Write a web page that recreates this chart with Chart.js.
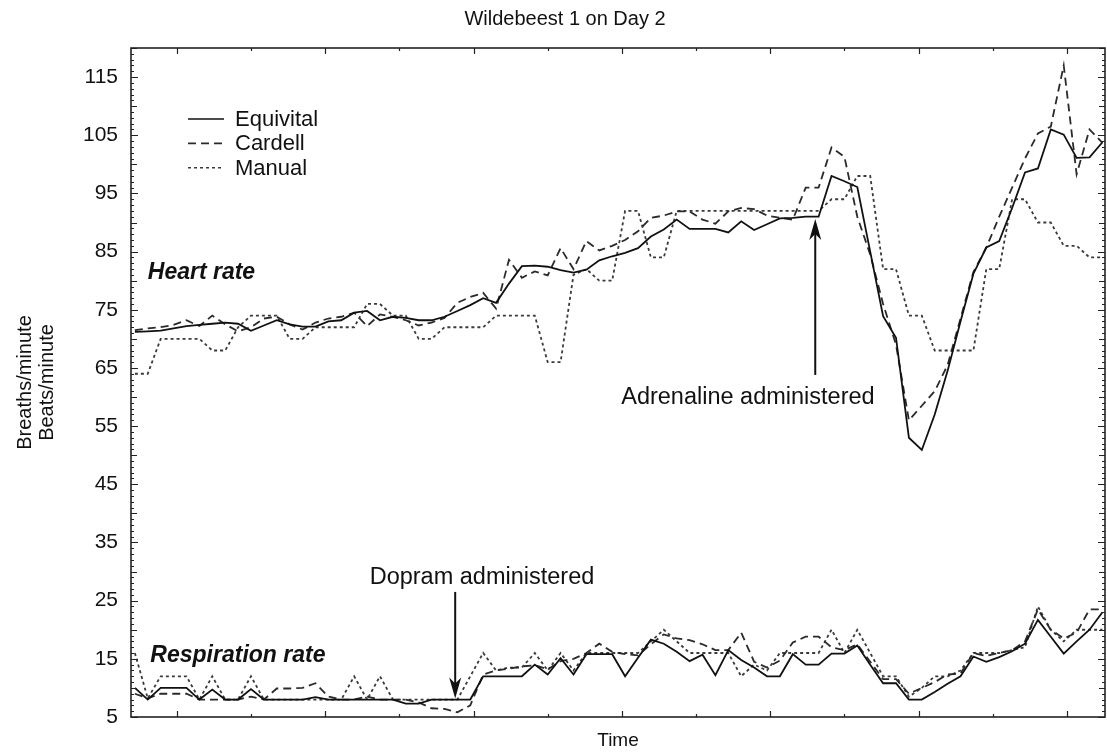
<!DOCTYPE html>
<html>
<head>
<meta charset="utf-8">
<script src="https://cdn.jsdelivr.net/npm/chart.js@4.4.1/dist/chart.umd.min.js"></script>
<style>
  html, body { margin: 0; padding: 0; background: #fff; }
  #wrap { width: 1107px; height: 754px; }
</style>
</head>
<body>
<div id="wrap"><canvas id="chart"></canvas></div>
<script>
// sample number along the time axis (no labels on that axis)
const sampleIdx = Array.from({ length: 76 }, (_, i) => i);

// Heart rate (beats/minute)
const heartEquivital = [
  71.2, 71.3, 71.4, 71.8, 72.2, 72.4, 72.6, 72.8, 72.6, 71.4,
  72.3, 73.2, 72.5, 72.1, 72.1, 73.0, 73.2, 74.5, 74.8, 73.2,
  73.8, 73.6, 73.2, 73.2, 73.8, 74.8, 75.8, 77.0, 76.2, 79.5,
  82.5, 82.6, 82.4, 81.8, 81.4, 81.9, 83.5, 84.2, 84.8, 85.6,
  87.6, 88.8, 90.5, 88.9, 88.9, 88.9, 88.3, 90.2, 88.7, 89.7,
  90.7, 90.8, 91.0, 91.0, 98.0, 97.1, 96.1, 85.0, 73.9, 70.2,
  53.0, 50.9, 57.0, 64.5, 73.0, 81.2, 85.7, 86.8, 92.5, 98.6,
  99.3, 106.0, 105.1, 101.1, 101.2, 103.8
];
const heartCardell = [
  71.5, 71.8, 72.0, 72.4, 73.2, 72.2, 74.0, 72.5, 71.3, 72.0,
  73.5, 73.8, 72.5, 71.6, 72.8, 73.5, 73.8, 74.5, 72.2, 74.2,
  73.8, 73.2, 72.3, 72.8, 73.6, 76.2, 77.2, 77.9, 75.2, 83.6,
  80.5, 81.6, 80.9, 85.6, 82.0, 86.8, 85.2, 86.0, 87.0, 88.5,
  90.8, 91.2, 91.9, 91.9, 90.5, 89.8, 91.9, 92.5, 92.3, 91.2,
  90.8, 90.5, 96.0, 96.0, 102.9, 101.3, 91.0, 84.5, 76.0, 69.0,
  56.0, 58.5, 61.0, 65.5, 73.5, 81.5, 85.7, 91.0, 96.0, 101.0,
  105.3, 106.5, 117.0, 98.3, 106.0, 103.7
];
const heartManual = [
  64, 64, 70, 70, 70, 70, 68, 68, 72, 74,
  74, 74, 70, 70, 72, 72, 72, 72, 76, 76,
  74, 74, 70, 70, 72, 72, 72, 72, 74, 74,
  74, 74, 66, 66, 81, 82, 80, 80, 92, 92,
  84, 84, 92, 92, 92, 92, 92, 92, 92, 92,
  92, 92, 92, 92, 94, 94, 98, 98, 82, 82,
  74, 74, 68, 68, 68, 68, 82, 82, 94, 94,
  90, 90, 86, 86, 84, 84
];

// Respiration rate (breaths/minute)
const respEquivital = [
  10, 8, 10, 10, 10, 8, 9.7, 8, 8, 9.8,
  8, 8, 8, 8, 8.4, 8, 8, 8, 8, 8,
  8, 7.3, 7.3, 8, 8, 8, 8, 12, 12, 12,
  12, 14, 12.3, 15.1, 12.3, 15.8, 15.8, 15.8, 12, 15.2,
  18.3, 17.6, 16.2, 14.6, 15.7, 12.2, 16.5, 14.8, 13.5, 12,
  12, 15.8, 14, 14, 15.9, 15.9, 17.3, 14, 10.8, 10.8,
  8, 8, 9.3, 10.7, 12, 15.4, 14.5, 15.3, 16.3, 17.6,
  21.7, 18.8, 15.9, 18, 20, 23
];
const respCardell = [
  9, 8.2, 9, 9, 9, 8, 8, 8, 8, 8.5,
  8, 9.9, 9.9, 10, 10.8, 8.5, 8, 8, 8.5, 8,
  8, 8, 7.5, 6.5, 6.4, 5.8, 7, 12.3, 13, 13.3,
  13.7, 13.9, 13.2, 14.6, 15, 16, 17.6, 16.2, 15.8, 15.6,
  17.5, 19.2, 18.5, 18.2, 17.5, 16.5, 16.5, 19.5, 14.5, 13.5,
  14.7, 17.8, 18.8, 18.8, 17, 16.5, 17.5, 14.5, 11.5, 11.5,
  9, 10, 11, 12.3, 12.5, 16, 15.5, 16, 16.5, 18,
  23.5, 20, 18.5, 19.5, 23.5, 23.5
];
const respManual = [
  16, 8.2, 12, 12, 12, 8, 12, 8, 8, 12,
  8, 8, 8, 8, 8, 8, 8, 12, 8, 12,
  8, 8, 8, 8, 8, 8, 12, 16, 13, 13.5,
  13.5, 16, 13, 16, 13, 16, 16, 16, 16, 16,
  18, 20, 18, 16, 16, 16, 16, 12, 14, 13,
  16, 16, 16, 16, 20, 16, 20, 16, 12, 12,
  8.5, 10, 12, 12, 13, 16, 16, 16, 16.5, 17,
  24, 20, 18, 20, 20, 20
];

const yTickValues = [5, 15, 25, 35, 45, 55, 65, 75, 85, 95, 105, 115];
const xMajorTicks = [3.25, 14.75, 26.25, 37.75, 49.25, 60.75, 72.25];

const FONT = '"Liberation Sans", Arial, sans-serif';

const seriesStyle = {
  Equivital: { color: '#111', dash: [] },
  Cardell:   { color: '#2a2a2a', dash: [8, 5] },
  Manual:    { color: '#3a3a3a', dash: [3, 3] }
};

function toPoints(values) {
  return values.map((v, i) => ({ x: sampleIdx[i], y: v }));
}

function makeSet(label, values, group) {
  const st = seriesStyle[label];
  return {
    label: label,
    group: group,
    data: toPoints(values),
    borderColor: st.color,
    borderDash: st.dash,
    borderWidth: 1.8,
    pointRadius: 0,
    tension: 0,
    fill: false
  };
}

// annotations placed in data units (x = sample, y = value)
const notes = [
  { text: 'Heart rate', x: 1.0, y: 81.4, font: 'italic bold 23px ' + FONT },
  { text: 'Respiration rate', x: 1.2, y: 15.6, font: 'italic bold 23px ' + FONT },
  { text: 'Adrenaline administered', x: 37.7, y: 60.0, font: '23.5px ' + FONT },
  { text: 'Dopram administered', x: 18.2, y: 29.0, font: '23.5px ' + FONT }
];
const arrows = [
  { x: 52.74, from: 63.8, to: 90.6 },
  { x: 24.83, from: 26.5, to: 8.2 }
];

const decorations = {
  id: 'decorations',
  afterDraw(chart) {
    const { ctx, chartArea: a, scales: { x, y } } = chart;
    ctx.save();

    // title
    ctx.font = '20px ' + FONT;
    ctx.fillStyle = '#111';
    ctx.textAlign = 'center';
    ctx.textBaseline = 'middle';
    ctx.fillText('Wildebeest 1 on Day 2', a.left + 434, 19);

    // frame
    ctx.strokeStyle = '#222';
    ctx.lineWidth = 1.6;
    ctx.setLineDash([]);
    ctx.strokeRect(a.left, a.top, a.right - a.left, a.bottom - a.top);

    // inward ticks on the y sides
    ctx.lineWidth = 1.2;
    ctx.beginPath();
    for (let v = 5; v <= 120; v++) {
      const len = v % 10 === 5 ? 7 : (v % 5 === 0 ? 6 : 3);
      const py = Math.round(y.getPixelForValue(v)) + 0.5;
      ctx.moveTo(a.left, py); ctx.lineTo(a.left + len, py);
      ctx.moveTo(a.right, py); ctx.lineTo(a.right - len, py);
    }
    // inward ticks on the x sides
    const step = xMajorTicks[1] - xMajorTicks[0];
    xMajorTicks.forEach(t => {
      [t, t + step / 2].forEach((v, k) => {
        if (v < x.min || v > x.max) return;
        const len = k === 0 ? 6 : 3;
        const px = Math.round(x.getPixelForValue(v)) + 0.5;
        ctx.moveTo(px, a.bottom); ctx.lineTo(px, a.bottom - len);
        ctx.moveTo(px, a.top); ctx.lineTo(px, a.top + len);
      });
    });
    ctx.stroke();

    // legend
    const names = ['Equivital', 'Cardell', 'Manual'];
    ctx.font = '22px ' + FONT;
    ctx.textAlign = 'left';
    names.forEach((n, i) => {
      const ly = a.top + 71 + i * 24.4;
      const st = seriesStyle[n];
      ctx.beginPath();
      ctx.strokeStyle = st.color;
      ctx.lineWidth = 1.6;
      ctx.setLineDash(st.dash);
      ctx.moveTo(a.left + 57, ly);
      ctx.lineTo(a.left + 93, ly);
      ctx.stroke();
      ctx.fillText(n, a.left + 104, ly + 1);
    });
    ctx.setLineDash([]);

    // annotation texts
    notes.forEach(n => {
      ctx.font = n.font;
      ctx.fillStyle = '#111';
      ctx.fillText(n.text, x.getPixelForValue(n.x), y.getPixelForValue(n.y));
    });

    // arrows
    ctx.strokeStyle = '#111';
    ctx.fillStyle = '#111';
    ctx.lineWidth = 2;
    arrows.forEach(ar => {
      const px = x.getPixelForValue(ar.x);
      const y0 = y.getPixelForValue(ar.from);
      const y1 = y.getPixelForValue(ar.to);
      const dir = y1 < y0 ? 1 : -1;
      ctx.beginPath();
      ctx.moveTo(px, y0);
      ctx.lineTo(px, y1 + dir * 14);
      ctx.stroke();
      ctx.beginPath();
      ctx.moveTo(px, y1);
      ctx.lineTo(px - 6, y1 + dir * 21);
      ctx.lineTo(px, y1 + dir * 15);
      ctx.lineTo(px + 6, y1 + dir * 21);
      ctx.closePath();
      ctx.fill();
    });
    ctx.restore();
  }
};

const ctx = document.getElementById('chart').getContext('2d');
new Chart(ctx, {
  type: 'line',
  data: {
    datasets: [
      makeSet('Equivital', heartEquivital, 'heart'),
      makeSet('Cardell', heartCardell, 'heart'),
      makeSet('Manual', heartManual, 'heart'),
      makeSet('Equivital', respEquivital, 'resp'),
      makeSet('Cardell', respCardell, 'resp'),
      makeSet('Manual', respManual, 'resp')
    ]
  },
  options: {
    responsive: true,
    maintainAspectRatio: false,
    animation: false,
    layout: { padding: { left: 0, right: 2, top: 48, bottom: 0 } },
    scales: {
      x: {
        type: 'linear',
        min: -0.3,
        max: 75.2,
        grid: { display: false },
        border: { display: false },
        ticks: { display: false },
        title: {
          display: true,
          text: 'Time',
          color: '#111',
          font: { family: FONT, size: 19 },
          padding: { top: 0, bottom: 2 }
        },
        afterFit: s => { s.height = 37; }
      },
      y: {
        min: 5,
        max: 120,
        grid: { display: false, drawTicks: false },
        border: { display: false },
        afterBuildTicks: s => { s.ticks = yTickValues.map(v => ({ value: v })); },
        ticks: {
          color: '#111',
          padding: 13,
          font: { family: FONT, size: 21 }
        },
        title: {
          display: true,
          text: ['Breaths/minute', 'Beats/minute'],
          color: '#111',
          font: { family: FONT, size: 20, lineHeight: 1.1 },
          padding: { top: 14, bottom: 0 }
        },
        afterFit: s => { s.width = 131; }
      }
    },
    plugins: {
      legend: { display: false },
      tooltip: { enabled: false },
      title: { display: false }
    }
  },
  plugins: [decorations]
});
</script>
</body>
</html>
